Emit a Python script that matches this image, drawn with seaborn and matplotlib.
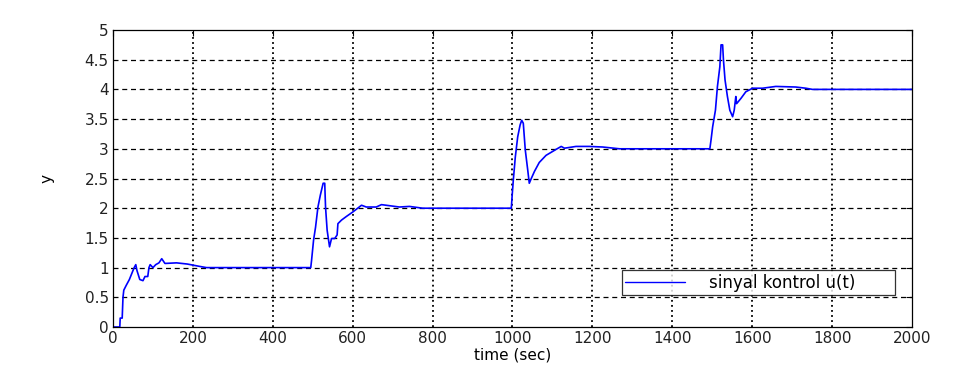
import pandas as pd
import matplotlib
matplotlib.use('Agg')
import matplotlib.pyplot as plt
import seaborn as sns

# Control signal response (time in sec, output y)
time_sec = [0, 17, 18, 23, 25, 27, 33, 41, 47, 53, 57, 60, 67, 75, 80, 87, 90, 93, 100,
            107, 115, 122, 130, 159, 186, 217, 234,
            495, 497, 502, 507, 513, 519, 526, 530, 532, 536, 542, 547, 555, 561, 563,
            572, 584, 601, 622, 634, 659, 672, 717, 742, 775,
            997, 999, 1002, 1007, 1013, 1019, 1023, 1027, 1032, 1038, 1042, 1047, 1055,
            1067, 1084, 1109, 1122, 1130, 1159, 1192, 1226, 1268,
            1494, 1497, 1501, 1508, 1513, 1519, 1522, 1526, 1528, 1532, 1538, 1544, 1551,
            1555, 1559, 1561, 1572, 1584, 1601, 1626, 1659, 1709, 1734, 1751, 2000]
y_val = [0, 0, 0.15, 0.15, 0.5, 0.62, 0.7, 0.8, 0.9, 1.0, 1.05, 0.95, 0.8, 0.78, 0.85, 0.85, 1.0, 1.05, 1.0,
         1.05, 1.08, 1.15, 1.07, 1.08, 1.06, 1.02, 1.0,
         1.0, 1.12, 1.46, 1.68, 2.02, 2.22, 2.42, 2.42, 2.02, 1.63, 1.35, 1.49, 1.49, 1.55, 1.74,
         1.8, 1.86, 1.94, 2.05, 2.02, 2.02, 2.06, 2.02, 2.03, 2.0,
         2.0, 2.2, 2.47, 2.86, 3.2, 3.4, 3.48, 3.43, 2.98, 2.65, 2.42, 2.5, 2.62,
         2.77, 2.89, 2.99, 3.04, 3.01, 3.04, 3.04, 3.03, 3.0,
         3.0, 3.15, 3.37, 3.65, 4.05, 4.38, 4.75, 4.75, 4.5, 4.16, 3.88, 3.65, 3.54,
         3.65, 3.88, 3.76, 3.85, 3.96, 4.02, 4.02, 4.05, 4.04, 4.02, 4.0, 4.0]

x_ticks = [0, 200, 400, 600, 800, 1000, 1200, 1400, 1600, 1800, 2000]
y_ticks = [0, 0.5, 1, 1.5, 2, 2.5, 3, 3.5, 4, 4.5, 5]
y_tick_labels = ['0', '0.5', '1', '1.5', '2', '2.5', '3', '3.5', '4', '4.5', '5']

df = pd.DataFrame({'time': time_sec, 'y': y_val, 'series': 'sinyal kontrol u(t)'})

sns.set_style('white')
plt.rcParams.update({'font.family': ['DejaVu Sans'],
                     'font.size': 11,
                     'text.color': 'black',
                     'axes.labelcolor': 'black',
                     'xtick.direction': 'in',
                     'ytick.direction': 'in'})

fig = plt.figure(figsize=(9.7, 3.69), dpi=100)
ax = fig.add_axes([0.1165, 0.1138, 0.8237, 0.8049])

sns.lineplot(data=df, x='time', y='y', hue='series', palette=['#0000ff'],
             estimator=None, sort=False, linewidth=1.2, ax=ax)

ax.set_xlim(0, 2000)
ax.set_ylim(0, 5)
ax.set_xticks(x_ticks)
ax.set_yticks(y_ticks)
ax.set_yticklabels(y_tick_labels)

# matlab style grid: dashed horizontals, dotted verticals
for yv in y_ticks[1:-1]:
    ax.axhline(yv, color='black', linewidth=0.9, linestyle=(0, (4, 3)), zorder=0)
for xv in x_ticks[1:-1]:
    ax.axvline(xv, color='black', linewidth=1.3, linestyle=(0, (1, 1.8)), zorder=0)

ax.tick_params(axis='both', which='both', length=4, width=0.8, colors='black',
               labelcolor='#222222', top=True, right=True, labelsize=11, pad=3)
for s in ax.spines.values():
    s.set_visible(True)
    s.set_color('black')
    s.set_linewidth(0.9)

ax.set_xlabel('time (sec)', fontsize=11, labelpad=1)
ax.set_ylabel('y', fontsize=11, labelpad=22)

# legend stretched to the reference box width
leg = ax.legend(loc='lower left', bbox_to_anchor=(0.637, 0.108, 0.342, 0.06),
                mode='expand', borderaxespad=0, frameon=True, fancybox=False,
                handlelength=3.6, handletextpad=1.4, borderpad=0.2,
                fontsize=12, title=None)
leg.get_frame().set_edgecolor('black')
leg.get_frame().set_linewidth(0.9)
for line in leg.get_lines():
    line.set_linewidth(1.0)

fig.savefig('out.png', dpi=100)
